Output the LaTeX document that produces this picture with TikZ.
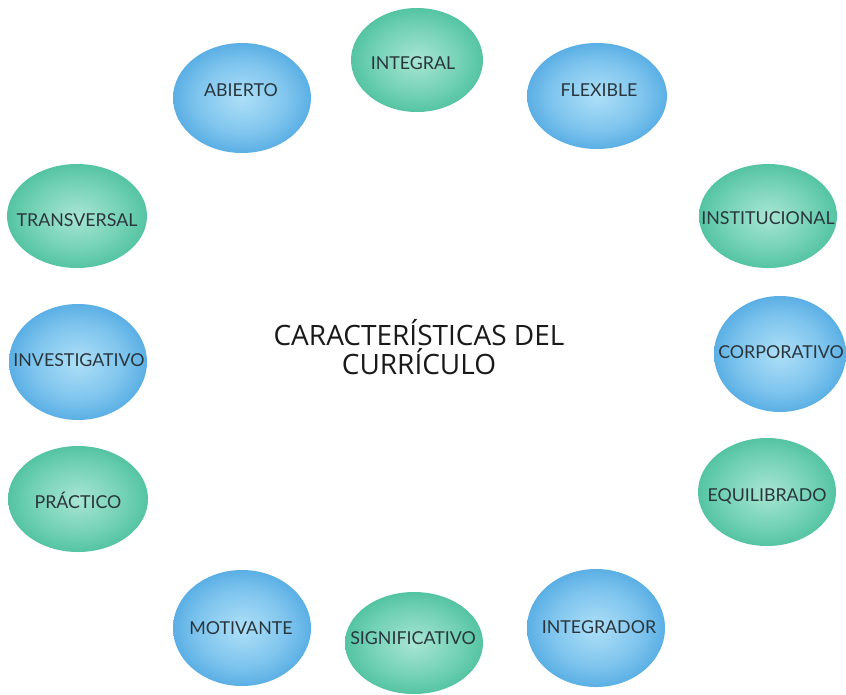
\documentclass[tikz,border=0pt]{standalone}
\usepackage{fontspec}
\setmainfont{Lato}
\newfontfamily\titlefont{Open Sans}
\usetikzlibrary{shapes.geometric}
\definecolor{bluein}{HTML}{AEDFF7}
\definecolor{bluemid}{HTML}{7FC5EE}
\definecolor{blueout}{HTML}{3F9EDD}
\definecolor{greenin}{HTML}{A8E5D3}
\definecolor{greenmid}{HTML}{74D2B6}
\definecolor{greenout}{HTML}{3CB993}
\definecolor{lbltext}{HTML}{2A363D}
\pgfdeclareradialshading{blueball}{\pgfpoint{0bp}{0bp}}{color(0bp)=(bluein); color(16bp)=(bluemid); color(32bp)=(blueout); color(50bp)=(blueout)}
\pgfdeclareradialshading{greenball}{\pgfpoint{0bp}{0bp}}{color(0bp)=(greenin); color(16bp)=(greenmid); color(32bp)=(greenout); color(50bp)=(greenout)}
\tikzset{
  ball/.style={ellipse, inner sep=0pt, draw=none},
  bball/.style={ball, shading=blueball},
  gball/.style={ball, shading=greenball},
  lbl/.style={inner sep=0pt, text=lbltext, font=\fontsize{17.8}{20}\selectfont},
}
\begin{document}
\begin{tikzpicture}[x=1pt,y=-1pt]
\useasboundingbox (0,0) rectangle (846,694);
\fill[white] (0,0) rectangle (846,694);
% ellipses
\node[bball, minimum width=138pt, minimum height=110pt] (abierto) at (242,98) {};
\node[gball, minimum width=132pt, minimum height=104pt] (integral) at (417,60) {};
\node[bball, minimum width=140pt, minimum height=106pt] (flexible) at (597,96) {};
\node[gball, minimum width=140pt, minimum height=104pt] (transversal) at (77,216) {};
\node[gball, minimum width=138pt, minimum height=104pt] (institucional) at (768,216) {};
\node[bball, minimum width=138pt, minimum height=116pt] (investigativo) at (78,362) {};
\node[bball, minimum width=132pt, minimum height=116pt] (corporativo) at (780,354) {};
\node[gball, minimum width=140pt, minimum height=106pt] (practico) at (78,499) {};
\node[gball, minimum width=138pt, minimum height=108pt] (equilibrado) at (767,492) {};
\node[bball, minimum width=138pt, minimum height=116pt] (motivante) at (242,628) {};
\node[gball, minimum width=138pt, minimum height=102pt] (significativo) at (414,643) {};
\node[bball, minimum width=138pt, minimum height=118pt] (integrador) at (596,628) {};
% labels
\node[lbl] (tabierto) at (241,90) {ABIERTO};
\node[lbl] (tintegral) at (413,63) {INTEGRAL};
\node[lbl] (tflexible) at (599,90) {FLEXIBLE};
\node[lbl] (ttransversal) at (77,220) {TRANSVERSAL};
\node[lbl] (tinstitucional) at (768,218) {INSTITUCIONAL};
\node[lbl] (tinvestigativo) at (79,360) {INVESTIGATIVO};
\node[lbl] (tcorporativo) at (781,352) {CORPORATIVO};
\node[lbl] (tpractico) at (78,500) {PRÁCTICO};
\node[lbl] (tequilibrado) at (767,496) {EQUILIBRADO};
\node[lbl] (tmotivante) at (241,628) {MOTIVANTE};
\node[lbl] (tsignificativo) at (413,638) {SIGNIFICATIVO};
\node[lbl] (tintegrador) at (599,627) {INTEGRADOR};
% title
\node[inner sep=0pt, align=center, text=black!90, font=\titlefont\fontsize{28}{29}\selectfont] (title) at (419,347) {CARACTERÍSTICAS DEL\\CURRÍCULO};
\end{tikzpicture}
\end{document}
